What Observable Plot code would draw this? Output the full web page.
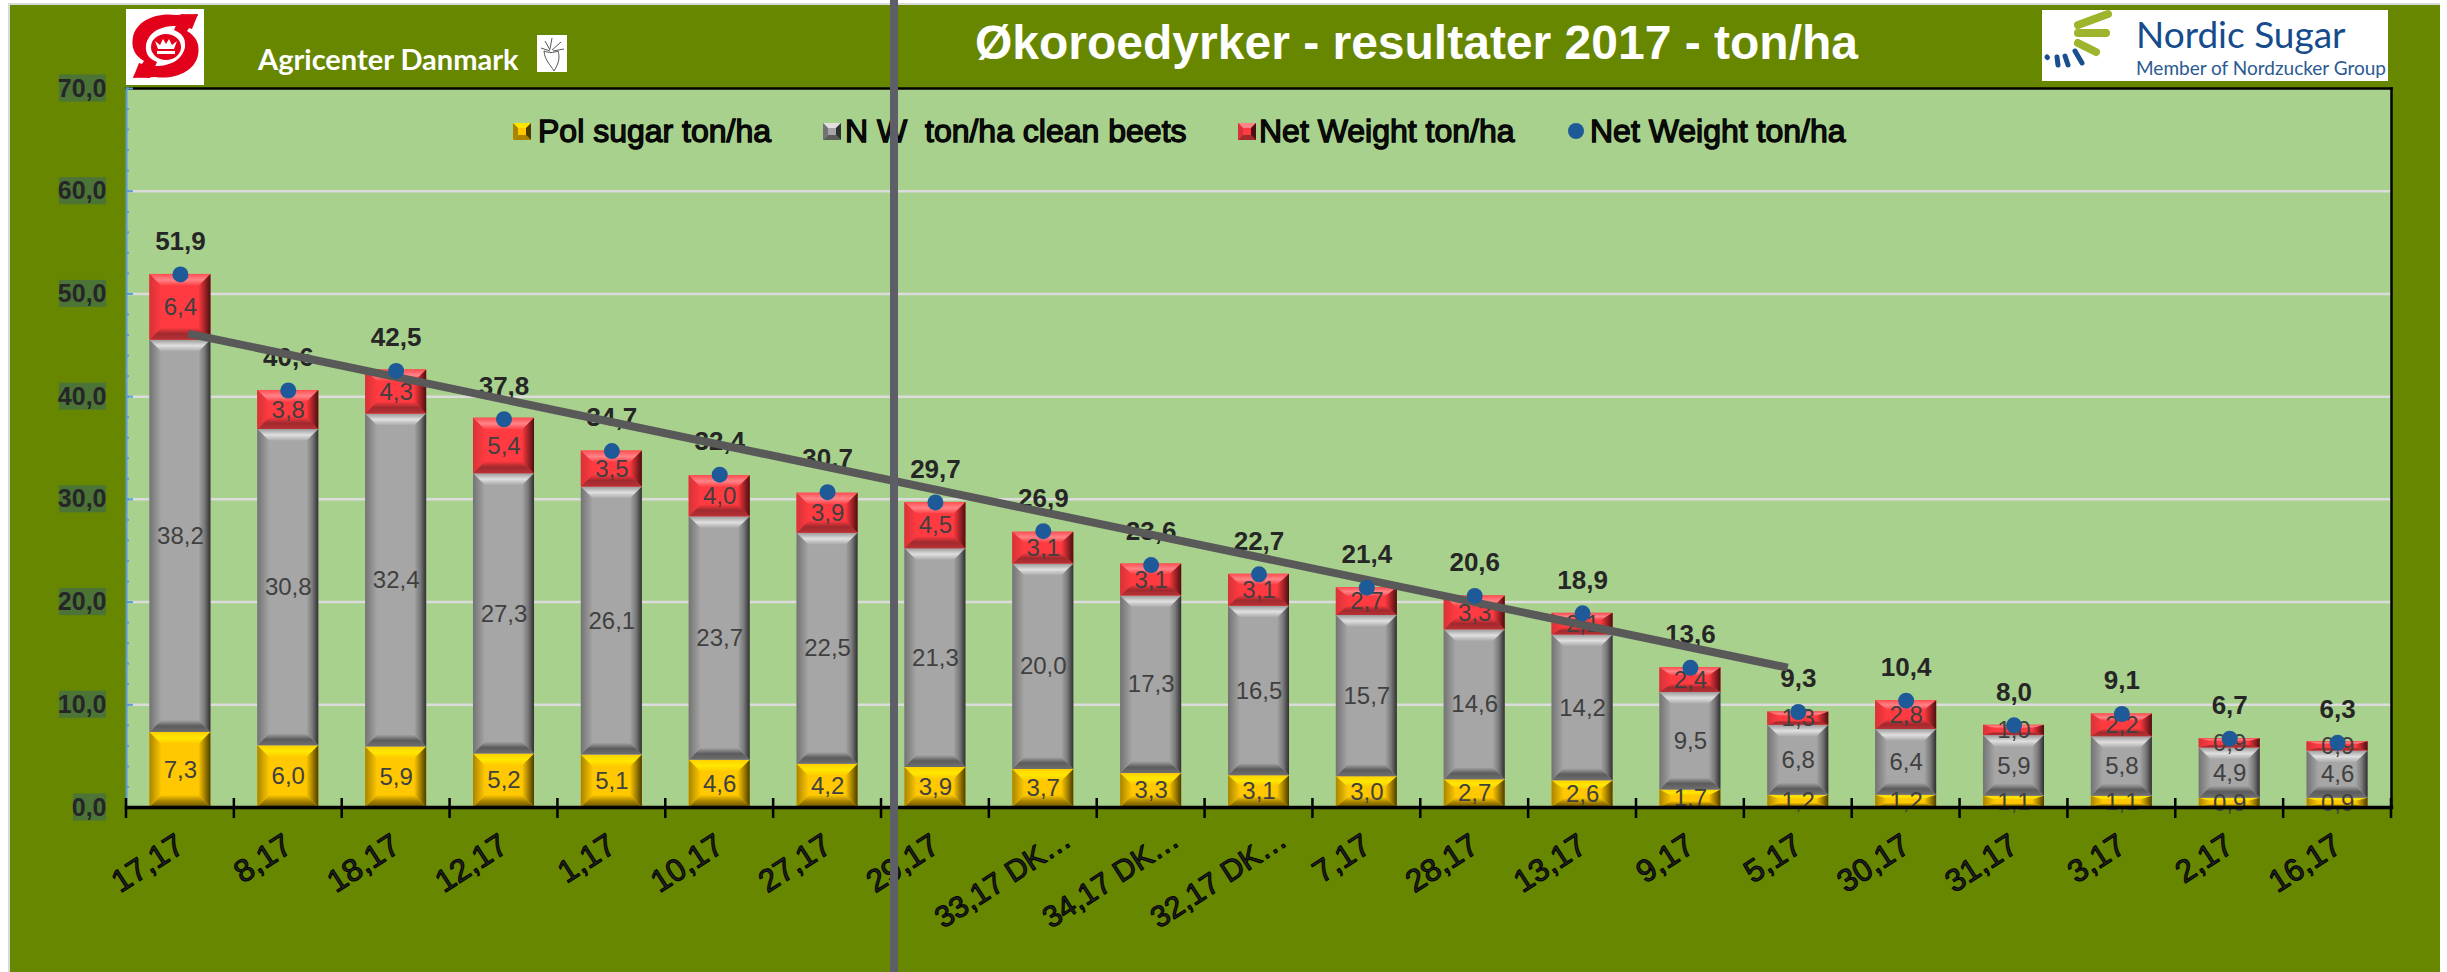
<!DOCTYPE html>
<html><head><meta charset="utf-8">
<script src="https://cdn.jsdelivr.net/npm/d3@7"></script>
<script src="https://cdn.jsdelivr.net/npm/@observablehq/plot@0.6"></script>
<style>
html,body{margin:0;padding:0;background:#fff;width:2447px;height:972px;overflow:hidden;font-family:"Liberation Sans",Arial,sans-serif}
#bg{position:absolute;left:8px;top:3px;width:2432px;height:969px;background:#678700;border:solid #d9d9d9;border-width:2px 0 0 2px;box-sizing:border-box}
#chart{position:absolute;left:0;top:0}
#chart svg{background:transparent!important;overflow:visible;display:block}
.abs{position:absolute;white-space:pre}
#title{left:975px;top:10px;font:bold 48px "Liberation Sans";color:#fff;line-height:66px}
.lg{font:32px "Liberation Sans";color:#111;-webkit-text-stroke:1.3px #000;top:113px;line-height:36px}
</style></head><body>
<div id="bg"></div><div id="chart"></div>
<script>
const categories=["17,17","8,17","18,17","12,17","1,17","10,17","27,17","29,17","33,17 DK…","34,17 DK…","32,17 DK…","7,17","28,17","13,17","9,17","5,17","30,17","31,17","3,17","2,17","16,17"];
const polSugar=[7.3,6.0,5.9,5.2,5.1,4.6,4.2,3.9,3.7,3.3,3.1,3.0,2.7,2.6,1.7,1.2,1.2,1.1,1.1,0.9,0.9];
const cleanBeets=[38.2,30.8,32.4,27.3,26.1,23.7,22.5,21.3,20.0,17.3,16.5,15.7,14.6,14.2,9.5,6.8,6.4,5.9,5.8,4.9,4.6];
const netTare=[6.4,3.8,4.3,5.4,3.5,4.0,3.9,4.5,3.1,3.1,3.1,2.7,3.3,2.1,2.4,1.3,2.8,1.0,2.2,0.9,0.9];
const netWeight=[51.9,40.6,42.5,37.8,34.7,32.4,30.7,29.7,26.9,23.6,22.7,21.4,20.6,18.9,13.6,9.3,10.4,8.0,9.1,6.7,6.3];
const trendCats=["17,17","5,17"];
const trendVals=[46.3,13.4];
const yTicks=[0,10,20,30,40,50,60,70];
const yMinor=[0,2,4,6,8,10,12,14,16,18,20,22,24,26,28,30,32,34,36,38,40,42,44,46,48,50,52,54,56,58,60,62,64,66,68,70];
const legendItems=[
 {label:"Pol sugar ton/ha",key:"y",mx:513,tx:538},
 {label:"N W  ton/ha clean beets",key:"g",mx:823,tx:845},
 {label:"Net Weight ton/ha",key:"r",mx:1238,tx:1259},
 {label:"Net Weight ton/ha",key:"dot",mx:1568,tx:1590}];

const fmt=v=>v.toFixed(1).replace(".",",");
const palette={
 y:{base:"#ffc800",top:["#ffd000","#ffe800","#ffc800"],bot:["#ffc800","#a88400","#6b5500"],left:["#a88400","#ffc800"],right:["#ffc800","#a88400","#4a3c00"]},
 g:{base:"#a6a6a6",top:["#9a9a9a","#e0e0e0","#a6a6a6"],bot:["#a6a6a6","#5c5c5c","#6e6e6e"],left:["#737373","#a6a6a6"],right:["#a6a6a6","#7a7a7a","#303030"]},
 r:{base:"#ff3a40",top:["#ff4d52","#ff8488","#ff3a40"],bot:["#ff3a40","#a02a2e","#b83035"],left:["#d63338","#ff3a40"],right:["#ff3a40","#a82428","#4a1012"]}
};
const rows=categories.flatMap((c,i)=>[
 {cat:c,value:polSugar[i],fill:palette.y.base},
 {cat:c,value:cleanBeets[i],fill:palette.g.base},
 {cat:c,value:netTare[i],fill:palette.r.base}]);
const totals=categories.map((c,i)=>({cat:c,total:netWeight[i]}));
const trend=trendCats.map((c,i)=>({cat:c,v:trendVals[i]}));

const NS="http://www.w3.org/2000/svg";
function el(n,a){const e=document.createElementNS(NS,n);for(const k in a)e.setAttribute(k,a[k]);return e;}
function defsMark(){
 const d=el("defs",{});
 for(const k in palette){const p=palette[k];
  for(const [side,x1,y1,x2,y2] of [["top",0,0,0,1],["bot",0,0,0,1],["left",0,0,1,0],["right",0,0,1,0]]){
   const g=el("linearGradient",{id:k+"-"+side,x1,y1,x2,y2});
   p[side].forEach((c,i,a)=>g.appendChild(el("stop",{offset:i/(a.length-1),"stop-color":c})));
   d.appendChild(g);
  }}
 return d;
}
const keyOf=Object.fromEntries(Object.keys(palette).map(k=>[palette[k].base,k]));
function bevel(index,scales,values,dims,ctx,next){
 const g=next(index,scales,values,dims,ctx);
 g.querySelectorAll("rect").forEach(r=>{
  const x=+r.getAttribute("x"),y=+r.getAttribute("y"),w=+r.getAttribute("width"),h=+r.getAttribute("height");
  const k=keyOf[r.getAttribute("fill")];if(!k)return;
  const b=Math.min(12,h*0.34),bs=12;
  const P=r.parentNode,pts=(a)=>a.map(q=>q.join(",")).join(" ");
  const add=(s,a)=>P.insertBefore(el("polygon",{points:pts(a),fill:`url(#${k}-${s})`}),r.nextSibling);
  add("left",[[x,y],[x+bs,y+b],[x+bs,y+h-b],[x,y+h]]);
  add("right",[[x+w,y],[x+w-bs,y+b],[x+w-bs,y+h-b],[x+w,y+h]]);
  add("top",[[x,y],[x+w,y],[x+w-bs,y+b],[x+bs,y+b]]);
  add("bot",[[x,y+h],[x+w,y+h],[x+w-bs,y+h-b],[x+bs,y+h-b]]);
 });
 return g;
}
const BLUE="#5b9bd5";
const labelOpts={frameAnchor:"bottom",rotate:-33,textAnchor:"end",fill:"#222",stroke:"#000",strokeWidth:1,paintOrder:"fill"};
const isLong=d=>d.includes("DK");
const plot=Plot.plot({
 width:2447,height:972,marginLeft:126,marginRight:56,marginTop:88,marginBottom:165,
 style:{background:"transparent",fontFamily:"Liberation Sans"},
 x:{domain:categories,paddingInner:0.434,paddingOuter:0.217,round:false,axis:null},
 y:{domain:[0,70],axis:null},
 marks:[
  defsMark,
  Plot.frame({fill:"#a9d18e",stroke:null}),
  Plot.ruleY(yTicks.filter(d=>d>0&&d<70),{stroke:"#dcdcdc",strokeWidth:2.5}),
  Plot.frame({anchor:"top",stroke:"#000",strokeWidth:2.5}),
  Plot.frame({anchor:"right",stroke:"#000",strokeWidth:2.5}),
  Plot.frame({anchor:"left",stroke:BLUE,strokeWidth:2}),
  (i,{y})=>{const g=el("g",{});yTicks.forEach(v=>{const w=v===0?33:47;
     g.appendChild(el("rect",{x:106-w,y:y(v)-13.5,width:w,height:27,fill:"#4c7437"}));});return g;},
  Plot.axisY({ticks:yMinor,tickSize:-3,tickFormat:()=>"",stroke:BLUE,strokeWidth:2,label:null}),
  Plot.axisY({ticks:yTicks,tickSize:-7,tickPadding:27,tickFormat:fmt,stroke:BLUE,strokeWidth:2,fill:"#262626",fontSize:25,fontWeight:"bold",label:null}),
  Plot.barY(rows,{x:"cat",y:"value",fill:"fill",render:bevel}),
  Plot.text(rows,Plot.stackY({x:"cat",y:"value",text:d=>fmt(d.value),fill:"#404040",fontSize:24})),
  Plot.frame({anchor:"bottom",stroke:"#000",strokeWidth:3.5}),
  (i,{x})=>{const g=el("g",{stroke:"#000","stroke-width":2.5});const s=x(categories[1])-x(categories[0]);
     const bw=s*(1-0.434);const y0=x(categories[0])+bw/2-s/2;
     for(let k=0;k<=categories.length;k++){const X=y0+k*s;g.appendChild(el("line",{x1:X,x2:X,y1:798,y2:818}));}
     return g;},
  Plot.text(categories.filter(d=>!isLong(d)),{x:d=>d,text:d=>d,dx:6,dy:43,fontSize:31.5,...labelOpts}),
  Plot.text(categories.filter(isLong),{x:d=>d,text:d=>d,dx:30,dy:37,fontSize:30,...labelOpts}),
  Plot.text(totals,{x:"cat",y:"total",text:d=>fmt(d.total),dy:-33,fontSize:26,fontWeight:"bold",fill:"#262626"}),
  Plot.line(trend,{x:"cat",y:"v",stroke:"#595959",strokeWidth:8,strokeLinecap:"butt",strokeDasharray:"1634 200",strokeDashoffset:-8}),
  Plot.dot(totals,{x:"cat",y:"total",r:8,fill:"#1f5a98",stroke:null})
 ]
});
document.getElementById("chart").appendChild(plot);

function addHTML(h){const t=document.createElement("div");t.innerHTML=h;while(t.firstChild)document.body.appendChild(t.firstChild);}
addHTML(`<div class="abs" id="title">Økoroedyrker - resultater 2017 - ton/ha</div>`);
legendItems.forEach(l=>{
 if(l.key==="dot")addHTML(`<div class="abs" style="left:${l.mx}px;top:123px;width:16px;height:16px;border-radius:50%;background:#1f5a98"></div>`);
 else{const p=palette[l.key];addHTML(`<svg class="abs" style="left:${l.mx}px;top:123px" width="18" height="17" viewBox="0 0 18 17"><rect width="18" height="17" fill="${p.base}"/><polygon points="0,0 18,0 13,5 5,5" fill="${p.top[1]}"/><polygon points="0,17 18,17 13,12 5,12" fill="${p.bot[1]}"/><polygon points="18,0 18,17 13,12 13,5" fill="${p.right[2]}"/><polygon points="0,0 0,17 5,12 5,5" fill="${p.left[0]}"/></svg>`);}
 addHTML(`<div class="abs lg" style="left:${l.tx}px">${l.label}</div>`);
});
addHTML(`<svg class="abs" style="left:126px;top:9px" width="78" height="76" viewBox="0 0 78 76">
<rect width="78" height="76" fill="#fff"/>
<g fill="#e2001a">
<path d="M72 5 L66 20 C50 14 24 16 20 36 C19 46 24 50 31 53 L24 69 L7 68 L18 52 C8 46 5 38 7 28 C10 12 30 3 50 6 Z"/>
<path d="M72 5 L66 20 C50 14 24 16 20 36 C19 46 24 50 31 53 L24 69 L7 68 L18 52 C8 46 5 38 7 28 C10 12 30 3 50 6 Z" transform="rotate(180 39.5 37)"/>
<ellipse cx="40" cy="38" rx="15" ry="13"/></g>
<g fill="#fff"><path d="M31 42 h18 v3 h-18z M32 40 l-3 -8 l5 4 l3 -6 l3 5 l3 -5 l3 6 l5 -4 l-3 8z"/></g></svg>
<svg class="abs" style="left:250px;top:35px;overflow:visible" width="290" height="50"><text x="8" y="35" font-family="Lato" font-weight="700" font-size="29" fill="#fff">Agricenter Danmark</text></svg>
<svg class="abs" style="left:537px;top:35px" width="30" height="37" viewBox="0 0 30 37"><rect width="30" height="37" fill="#fff"/><g fill="none" stroke="#444" stroke-width=".9"><path d="M15 3 L13 14 M8 6 L13 15 M24 7 L15 15 M4 13 L13 16 M27 14 L16 16 M7 16 C8 26 13 29 17 36 C22 28 23 22 21 16 C16 18 12 18 7 16 Z"/></g></svg>
<svg class="abs" style="left:2042px;top:10px;overflow:visible" width="346" height="71" viewBox="0 0 346 71"><rect width="346" height="71" fill="#fff"/>
<g stroke-linecap="round" fill="none"><g stroke="#9db52c" stroke-width="8"><path d="M36 15 L66 4"/><path d="M36 23 L64 23"/><path d="M36 33 L54 42"/></g>
<g stroke="#1a4f8f" stroke-width="5"><path d="M33 41 L40 53"/><path d="M23 46 L26 55"/><path d="M15 47 L16 55"/><path d="M5 47 L5.5 47.5"/></g></g>
<text x="94" y="38" font-family="Lato" font-size="37" fill="#164c8c">Nordic Sugar</text>
<text x="94" y="65" font-family="Lato" font-size="19" fill="#2a5a92">Member of Nordzucker Group</text></svg>
<div class="abs" style="left:890px;top:0;width:8px;height:972px;background:#5e5e68"></div>`);
</script></body></html>
